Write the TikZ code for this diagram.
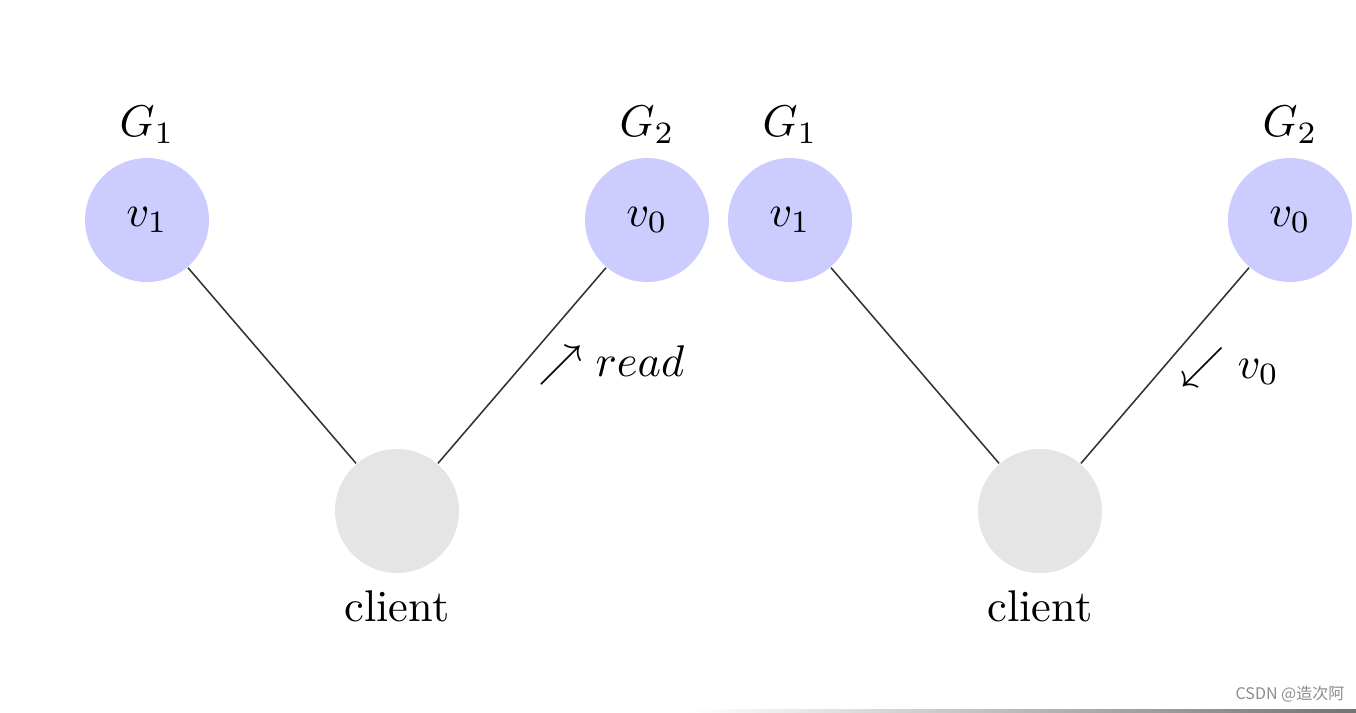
\documentclass[tikz,border=0pt]{standalone}
\usepackage{fontspec}
\usepackage{amssymb}
\newfontfamily\cjk{Noto Sans CJK SC}
\begin{document}
\begin{tikzpicture}[x=0.225pt,y=-0.225pt,
  gnode/.style={circle,fill=blue!20,minimum size=27.9pt,inner sep=0pt},
  cnode/.style={circle,fill=black!10,minimum size=27.9pt,inner sep=0pt},
  edge/.style={line width=0.35pt,draw=black!80},
  lbl/.style={inner sep=0pt}]
\useasboundingbox (0,0) rectangle (1356,712);
% left panel
\node[lbl] (g1a) at (147,125) {$G_1$};
\node[gnode] (v1a) at (147,220) {$v_1$};
\node[lbl] (g2a) at (647,125) {$G_2$};
\node[gnode] (v0a) at (647,220) {$v_0$};
\node[cnode] (ca) at (397,511) {};
\node[lbl] (cla) at (397,606) {client};
\draw[edge] (v1a) -- (ca);
\draw[edge] (v0a) -- (ca);
\node[lbl,anchor=west] (ra) at (538,365) {$\nearrow read$};
% right panel
\node[lbl] (g1b) at (790,125) {$G_1$};
\node[gnode] (v1b) at (790,220) {$v_1$};
\node[lbl] (g2b) at (1290,125) {$G_2$};
\node[gnode] (v0b) at (1290,220) {$v_0$};
\node[cnode] (cb) at (1040,511) {};
\node[lbl] (clb) at (1040,606) {client};
\draw[edge] (v1b) -- (cb);
\draw[edge] (v0b) -- (cb);
\node[lbl,anchor=west] (rb) at (1180,367) {$\swarrow v_0$};
% watermark
\node[lbl,text=black!45,font=\cjk\fontsize{3.6}{4}\selectfont] (wm) at (1290,694) {CSDN @造次阿};
\shade[left color=white,right color=black!55] (690,709) rectangle (1356,712);
\end{tikzpicture}
\end{document}
